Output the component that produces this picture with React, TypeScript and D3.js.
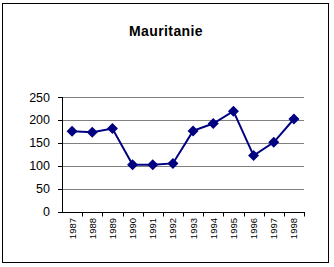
import React from "react";
import * as d3 from "d3";

const years = ["1987","1988","1989","1990","1991","1992","1993","1994","1995","1996","1997","1998"];
const values = [175, 173, 181, 102, 102, 105, 176, 192, 219, 122, 151, 202];
const yTicks = [0, 50, 100, 150, 200, 250];
const title = "Mauritanie";

export default function App() {
  const W = 334, H = 267;
  const left = 62, right = 304, top = 97, bottom = 211.5;
  const x = d3.scaleBand<string>().domain(years).range([left, right]);
  const y = d3.scaleLinear().domain([0, 250]).range([bottom, top]);
  const line = d3.line<number>()
    .x((_, i) => (x(years[i]) as number) + x.bandwidth() / 2)
    .y((d) => y(d));
  const r = 5.5;
  return (
    <svg width={W} height={H} style={{ position: "absolute", left: 0, top: 0 }}>
      <rect x={0} y={0} width={W} height={H} fill="#fff" />
      <rect x={2.5} y={3.5} width={326} height={259} fill="none" stroke="#000" strokeWidth={1} />
      <text x={166} y={36} textAnchor="middle" fontFamily="Liberation Sans, Arial, sans-serif" fontWeight="bold" fontSize={14} letterSpacing={0.4}>{title}</text>
      {yTicks.filter((t) => t > 0).map((t) => (
        <line key={t} x1={left} x2={right} y1={Math.round(y(t)) + 0.5} y2={Math.round(y(t)) + 0.5} stroke="#808080" strokeWidth={1} />
      ))}
      <line x1={left + 0.5} x2={left + 0.5} y1={top} y2={Math.round(bottom) + 0.5} stroke="#000" />
      <line x1={left} x2={right + 0.5} y1={Math.round(bottom) + 0.5} y2={Math.round(bottom) + 0.5} stroke="#000" />
      {yTicks.map((t) => (
        <g key={t}>
          <line x1={left - 4} x2={left} y1={Math.round(y(t)) + 0.5} y2={Math.round(y(t)) + 0.5} stroke="#000" />
          <text x={50} y={y(t) + 4.5} textAnchor="end" fontFamily="Liberation Sans, Arial, sans-serif" fontSize={12.5}>{t}</text>
        </g>
      ))}
      {years.map((yr, i) => {
        const xs = Math.round((x(yr) as number) + x.bandwidth()) + 0.5;
        const cx = (x(yr) as number) + x.bandwidth() / 2;
        return (
          <g key={yr}>
            <line x1={xs} x2={xs} y1={Math.round(bottom)} y2={Math.round(bottom) + 4.5} stroke="#000" />
            <text transform={`translate(${cx + 3.5},${218}) rotate(-90)`} textAnchor="end" fontFamily="Liberation Sans, Arial, sans-serif" fontSize={9.5}>{yr}</text>
          </g>
        );
      })}
      <path d={line(values) || ""} fill="none" stroke="#000080" strokeWidth={2} />
      {values.map((v, i) => {
        const cx = (x(years[i]) as number) + x.bandwidth() / 2;
        const cy = y(v);
        return (
          <path key={i} d={`M${cx},${cy - r}L${cx + r},${cy}L${cx},${cy + r}L${cx - r},${cy}Z`} fill="#000080" />
        );
      })}
    </svg>
  );
}
